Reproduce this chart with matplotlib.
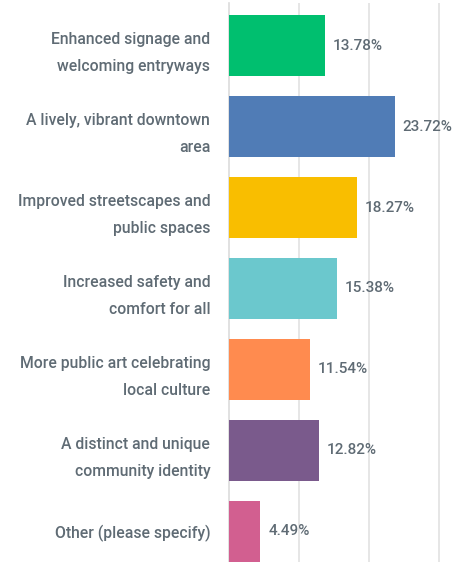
import matplotlib
matplotlib.use("Agg")
import matplotlib.pyplot as plt

categories = [
    "Enhanced signage and\nwelcoming entryways",
    "A lively, vibrant downtown\narea",
    "Improved streetscapes and\npublic spaces",
    "Increased safety and\ncomfort for all",
    "More public art celebrating\nlocal culture",
    "A distinct and unique\ncommunity identity",
    "Other (please specify)",
]
percentages = [13.78, 23.72, 18.27, 15.38, 11.54, 12.82, 4.49]
value_labels = ["13.78%", "23.72%", "18.27%", "15.38%", "11.54%", "12.82%", "4.49%"]
bar_colors = ["#00bf6f", "#507cb6", "#f9be00", "#6bc8cd", "#ff8b4f", "#7a5a8c", "#d25f90"]

text_color = "#5f6b74"
plt.rcParams["font.family"] = ["Roboto", "DejaVu Sans"]

fig = plt.figure(figsize=(4.64, 5.62), dpi=100)
ax = fig.add_axes([229 / 464, 0, 1 - 229 / 464, 559 / 562])

y = list(range(len(categories)))
ax.barh(y, percentages, height=0.753, color=bar_colors, zorder=3)

for yi, v, lab in zip(y, percentages, value_labels):
    ax.text(v + 1.1, yi, lab, va="center", ha="left", fontsize=11,
            fontweight="medium", color=text_color)

ax.set_xlim(0, 235 / 7)
ax.set_ylim(6 + 0.377, -0.525)
ax.set_xticks([10, 20, 30])
ax.grid(axis="x", color="#e2e2e2", linewidth=1.2, zorder=0)
ax.tick_params(axis="x", length=0, labelbottom=False)
ax.tick_params(axis="y", length=0, pad=13.5, labelsize=11.3, labelcolor=text_color)
ax.set_yticks(y)
ax.set_yticklabels(categories, linespacing=2.0, fontweight="medium")
for s in ["top", "right", "bottom"]:
    ax.spines[s].set_visible(False)
ax.spines["left"].set_color("#dcdcdc")
ax.spines["left"].set_linewidth(1.2)

fig.savefig("out.png", dpi=100)
